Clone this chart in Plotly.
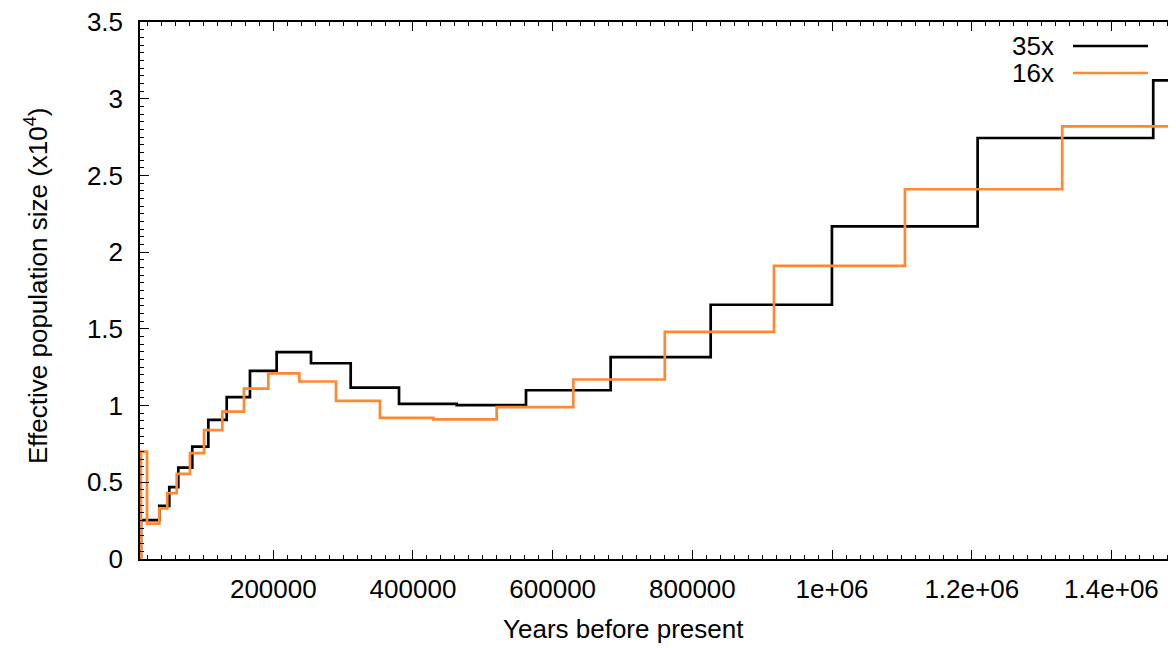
import plotly.graph_objects as go

# ---- data ----
# step start positions (years before present) and effective population size (x10^4)
black_start = [9160, 10500, 36800, 51100, 64000, 84000, 107000, 133300, 166600,
               204800, 254000, 310800, 380000, 462500, 561800, 683000, 826200,
               999800, 1208400, 1459800]
black_ne = [0.0, 0.254, 0.346, 0.468, 0.596, 0.733, 0.907, 1.055, 1.226,
            1.348, 1.276, 1.117, 1.011, 1.003, 1.10, 1.316, 1.657,
            2.168, 2.744, 3.12]

orange_start = [9160, 10500, 19200, 36800, 48200, 61700, 80700, 100800, 127000,
                158000, 192800, 237200, 289800, 352700, 429000, 519800, 629500,
                760500, 916800, 1104300, 1329500]
orange_ne = [0.0, 0.70, 0.23, 0.33, 0.43, 0.555, 0.69, 0.84, 0.96,
             1.11, 1.21, 1.157, 1.03, 0.92, 0.91, 0.99, 1.17,
             1.48, 1.91, 2.41, 2.82]

end_year = 1500000

series_names = ["35x", "16x"]
series_colors = ["#000000", "#ff8833"]

x_tickvals = [200000, 400000, 600000, 800000, 1000000, 1200000, 1400000]
x_ticktext = ["200000", "400000", "600000", "800000", "1e+06", "1.2e+06", "1.4e+06"]
y_tickvals = [0, 0.5, 1, 1.5, 2, 2.5, 3, 3.5]
y_ticktext = ["0", "0.5", "1", "1.5", "2", "2.5", "3", "3.5"]

FONT = "Liberation Sans, Arial, sans-serif"
FS = 26

fig = go.Figure()
for name, color, xs, ys in [(series_names[0], series_colors[0], black_start, black_ne),
                            (series_names[1], series_colors[1], orange_start, orange_ne)]:
    fig.add_trace(go.Scatter(
        x=list(xs) + [end_year], y=list(ys) + [ys[-1]],
        mode="lines", line=dict(color=color, width=2.7, shape="hv"),
        name=name, showlegend=False, hoverinfo="skip"))

# the page body has an 8px margin, so the figure is drawn 8px smaller
OFF = 8
W, H = 1176 - OFF, 648 - OFF
L, T, B = 140 - OFF, 22 - OFF, 89
pw, ph = W - L, H - T - B

def px2paper_x(px):          # page pixel -> paper coordinate
    return (px - OFF - L) / pw

def px2paper_y(py):
    return (H - B - (py - OFF)) / ph

# legend drawn gnuplot-style: label on the left, line sample on the right
for i, (name, color) in enumerate(zip(series_names, series_colors)):
    yp = px2paper_y(46 + 27 * i)
    fig.add_annotation(x=px2paper_x(1055), y=yp, xref="paper", yref="paper",
                       text=name, showarrow=False, xanchor="right", yanchor="middle",
                       borderpad=0,
                       font=dict(family=FONT, size=FS, color="#000"))
    fig.add_shape(type="line", xref="paper", yref="paper",
                  x0=px2paper_x(1073), x1=px2paper_x(1148), y0=yp, y1=yp,
                  line=dict(color=color, width=2.7))

# axis titles
fig.add_annotation(x=px2paper_x(623), y=0, xref="paper", yref="paper",
                   yshift=-70, text="Years before present", showarrow=False,
                   xanchor="center", yanchor="middle",
                   font=dict(family=FONT, size=FS, color="#000"))
fig.add_annotation(x=0, y=px2paper_y(286), xref="paper", yref="paper",
                   xshift=-104, text="Effective population size (x10<sup>4</sup>)",
                   showarrow=False, textangle=-90, xanchor="center", yanchor="middle",
                   font=dict(family=FONT, size=FS, color="#000"))

fig.update_layout(
    width=W, height=H,
    margin=dict(l=L, r=0, t=T, b=B),
    paper_bgcolor="white", plot_bgcolor="white",
    font=dict(family=FONT, size=FS, color="#000"),
    xaxis=dict(range=[9160, 1492400], showgrid=False, zeroline=False,
               showline=True, linecolor="black", linewidth=1.5, mirror="allticks",
               ticks="inside", ticklen=9, tickwidth=1.3, tickcolor="black",
               tickvals=x_tickvals, ticktext=x_ticktext,
               ticklabelstandoff=6, ticklabeloverflow="allow",
               minor=dict(ticks="inside", ticklen=4.5, tickwidth=1.2,
                          tickcolor="black", dtick=20000, tick0=0, showgrid=False)),
    yaxis=dict(range=[0, 3.5], showgrid=False, zeroline=False,
               showline=True, linecolor="black", linewidth=1.5, mirror=False,
               ticks="inside", ticklen=9, tickwidth=1.3, tickcolor="black",
               tickvals=y_tickvals, ticktext=y_ticktext,
               ticklabelstandoff=10, ticklabeloverflow="allow",
               minor=dict(ticks="inside", ticklen=4.5, tickwidth=1.2,
                          tickcolor="black", dtick=0.05, tick0=0, showgrid=False)),
)

fig.write_html("out.html")
